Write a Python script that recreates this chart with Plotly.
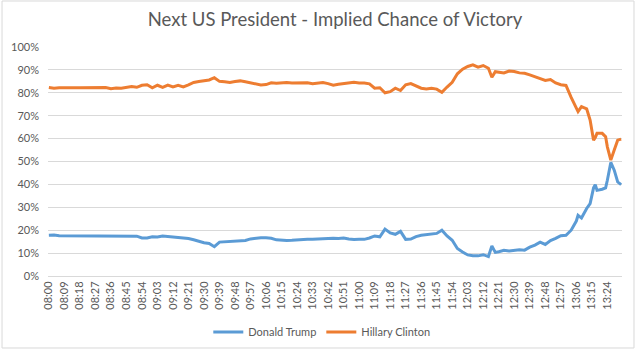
import plotly.graph_objects as go

times = ["08:00","08:03","08:06","08:09","08:12","08:15","08:18","08:21","08:24","08:27",
         "08:30","08:33","08:36","08:39","08:42","08:45","08:48","08:51","08:54","08:57",
         "09:00","09:03","09:06","09:09","09:12","09:15","09:18","09:21","09:24","09:27",
         "09:30","09:33","09:36","09:39","09:42","09:45","09:48","09:51","09:54","09:57",
         "10:00","10:03","10:06","10:09","10:12","10:15","10:18","10:21","10:24","10:27",
         "10:30","10:33","10:36","10:39","10:42","10:45","10:48","10:51","10:54","10:57",
         "11:00","11:03","11:06","11:09","11:12","11:15","11:18","11:21","11:24","11:27",
         "11:30","11:33","11:36","11:39","11:42","11:45","11:48","11:51","11:54","11:57",
         "12:00","12:03","12:06","12:09","12:12","12:15","12:17","12:19","12:21","12:24",
         "12:27","12:30","12:33","12:36","12:39","12:42","12:45","12:48","12:51","12:54",
         "12:57","13:00","13:03","13:06","13:07","13:09","13:12","13:14","13:15","13:16",
         "13:17","13:18","13:21","13:23","13:24","13:26","13:28","13:30","13:32"]

clinton = [82.3,82.0,82.2,82.1,82.2,82.2,82.2,82.2,82.2,82.2,
           82.0,82.3,81.8,82.1,82.0,82.2,82.7,82.4,83.3,83.5,
           82.2,83.3,82.4,83.4,82.6,83.3,82.6,83.5,84.5,84.9,
           85.4,85.6,86.6,85.0,84.8,84.5,84.9,85.2,84.8,84.3,
           83.8,83.4,83.6,84.4,84.2,84.5,84.5,84.3,84.3,84.1,
           84.4,84.0,84.4,84.5,84.0,83.3,83.7,84.0,84.5,84.6,
           84.3,84.3,83.9,82.0,82.2,80.0,80.5,82.0,81.0,83.5,
           84.0,83.0,82.0,81.7,82.0,81.6,80.2,82.5,84.6,88.3,
           90.3,91.5,92.2,91.2,91.9,90.7,86.8,89.2,89.0,88.7,
           89.5,89.3,88.7,88.5,87.8,86.9,86.1,85.4,85.8,84.3,
           83.5,83.2,78.0,73.2,71.8,74.0,73.0,68.1,63.7,59.3,
           60.5,62.3,62.3,60.8,56.4,50.6,55.0,59.3,59.8]

trump = [17.8,17.9,17.6,17.6,17.5,17.5,17.5,17.5,17.5,17.5,
         17.5,17.5,17.5,17.5,17.5,17.5,17.5,17.4,16.6,16.6,
         17.1,17.0,17.5,17.3,17.1,16.7,16.6,16.4,15.8,15.0,
         14.5,14.2,12.8,14.8,14.9,14.9,15.0,15.2,15.5,16.2,
         16.6,16.7,16.7,16.5,15.8,15.6,15.5,15.6,15.8,16.0,
         16.1,16.0,16.1,16.3,16.6,16.5,16.4,16.6,16.2,15.9,
         16.0,16.0,16.6,17.5,17.1,20.5,18.8,18.2,19.5,16.0,
         16.1,17.2,17.8,18.1,18.1,18.6,20.0,17.5,15.6,12.0,
         10.5,9.2,8.8,8.8,9.3,8.5,13.1,10.3,10.6,11.2,
         10.9,11.1,11.5,11.3,12.6,13.5,14.8,13.8,15.5,16.4,
         17.6,17.8,20.0,24.0,26.5,25.3,29.5,31.6,35.3,38.5,
         39.9,37.4,37.9,38.5,41.8,49.6,46.2,41.1,39.9]

tick_labels = ["08:00","08:09","08:18","08:27","08:36","08:45","08:54","09:03","09:12",
               "09:21","09:30","09:39","09:48","09:57","10:06","10:15","10:24","10:33",
               "10:42","10:51","11:00","11:09","11:18","11:27","11:36","11:45","11:54",
               "12:03","12:12","12:21","12:30","12:39","12:48","12:57","13:06","13:15","13:24"]

day = "2016-11-09 "
x_vals = [day + t for t in times]

font_fam = "Lato, 'Open Sans', sans-serif"
grey = "#595959"

fig = go.Figure()
fig.add_trace(go.Scatter(x=x_vals, y=trump, mode="lines", name="Donald Trump",
                         line=dict(color="#5B9BD5", width=3)))
fig.add_trace(go.Scatter(x=x_vals, y=clinton, mode="lines", name="Hillary Clinton",
                         line=dict(color="#ED7D31", width=3)))

fig.update_layout(
    width=637, height=350,
    margin=dict(l=48, r=15, t=47, b=74, autoexpand=False),
    paper_bgcolor="white", plot_bgcolor="white",
    title=dict(text="Next US President - Implied Chance of Victory",
               x=0.5, xref="paper", xanchor="center", y=0.945, yref="container",
               yanchor="middle",
               font=dict(family=font_fam, size=18.5, color=grey)),
    font=dict(family=font_fam, size=11, color=grey),
    showlegend=True,
    legend=dict(orientation="h", x=0.477, xanchor="center", y=-0.245, yanchor="middle",
                font=dict(family=font_fam, size=11, color=grey), itemwidth=30),
    xaxis=dict(type="date", range=[day + "07:59:30", day + "13:32:30"],
               tickvals=[day + t for t in tick_labels], ticktext=tick_labels,
               tickangle=-90, showgrid=False, showline=True, linecolor="#D9D9D9",
               linewidth=1, ticks="", automargin=False, tickfont=dict(size=11, color=grey)),
    yaxis=dict(range=[0, 100], dtick=10, ticksuffix="%", showgrid=True,
               gridcolor="#D9D9D9", gridwidth=1, zeroline=False, ticks="",
               automargin=False, ticklabelstandoff=8, tickfont=dict(size=11, color=grey)),
    shapes=[dict(type="rect", xref="paper", yref="paper",
                 x0=-0.0801, x1=1.0209, y0=-0.3144, y1=1.2009,
                 line=dict(color="#D9D9D9", width=1), fillcolor="rgba(0,0,0,0)", layer="below")],
)

fig.write_html("out.html")
